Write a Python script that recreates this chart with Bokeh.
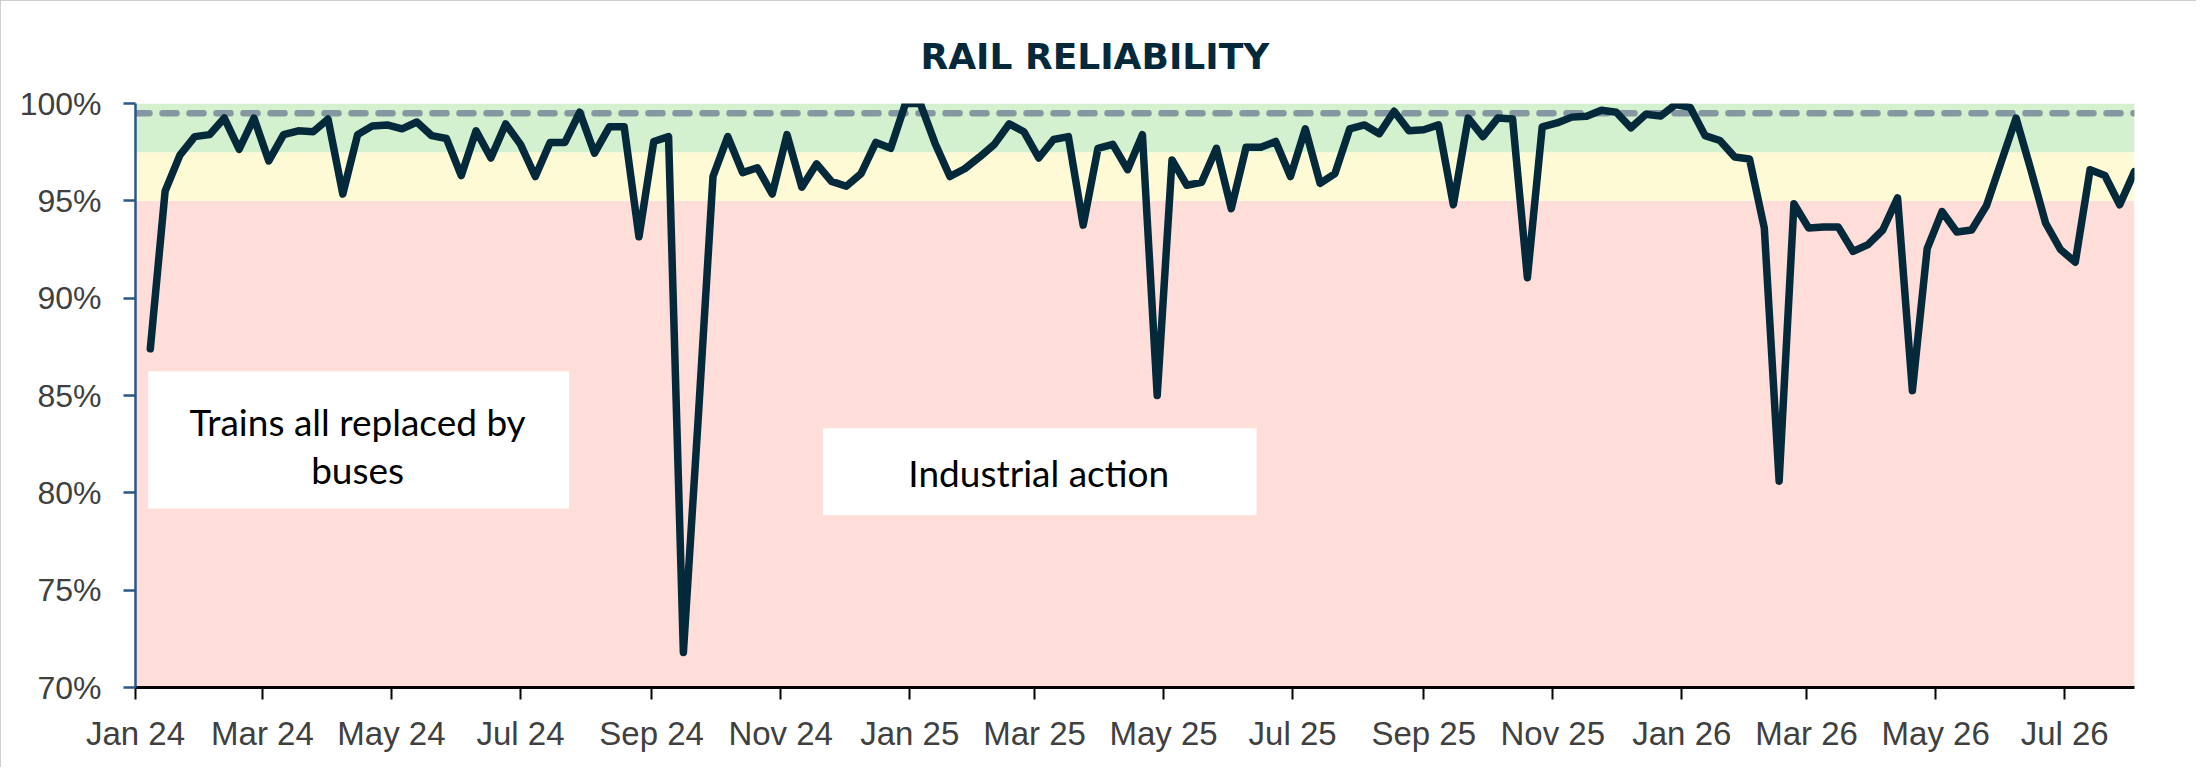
import pandas as pd
from bokeh.plotting import figure
from bokeh.models import (Range1d, BoxAnnotation, Span, Label, DatetimeTickFormatter,
                          MonthsTicker, PrintfTickFormatter, FixedTicker)
from bokeh.embed import file_html
from bokeh.resources import INLINE

# ---------------- data ----------------
first_week = "2024-01-08"
axis_start = "2024-01-01"
reliability = [
    87.4, 95.5, 97.35, 98.3, 98.4, 99.25, 97.65, 99.25, 97.05, 98.4,
    98.6, 98.55, 99.2, 95.35, 98.4, 98.85, 98.9, 98.7, 99.05, 98.35,
    98.2, 96.3, 98.6, 97.2, 98.95, 97.9, 96.25, 98.0, 98.0, 99.55,
    97.45, 98.8, 98.8, 93.15, 98.05, 98.3, 71.8, 83.8, 96.25, 98.3,
    96.45, 96.7, 95.35, 98.4, 95.7, 96.9, 96.0, 95.75, 96.4, 98.0,
    97.7, 100.0, 100.0, 97.95, 96.25, 96.65, 97.25, 97.9, 98.95, 98.55,
    97.2, 98.15, 98.3, 93.75, 97.7, 97.9, 96.6, 98.4, 85.0, 97.1,
    95.8, 95.95, 97.7, 94.6, 97.75, 97.75, 98.05, 96.25, 98.7, 95.9,
    96.4, 98.7, 98.9, 98.45, 99.6, 98.6, 98.65, 98.9, 94.8, 99.25,
    98.3, 99.25, 99.2, 91.05, 98.8, 99.0, 99.3, 99.35, 99.65, 99.55,
    98.75, 99.45, 99.35, 99.95, 99.8, 98.35, 98.1, 97.25, 97.15, 93.6,
    80.6, 94.85, 93.6, 93.65, 93.65, 92.4, 92.75, 93.5, 95.15, 85.25,
    92.55, 94.45, 93.4, 93.5, 94.75, 97.0, 99.25, 96.6, 93.85, 92.5,
    91.85, 96.6, 96.3, 94.8, 96.5,
]
y_ticks = [70, 75, 80, 85, 90, 95, 100]
tick_months = [0, 2, 4, 6, 8, 10]
band_edges = [70, 95, 97.5, 100]
band_colors = ["#FFDDD9", "#FFFAD6", "#D3F0CF"]
target = 99.5
title_text = "RAIL RELIABILITY"
note1_lines = ["Trains all replaced by", "buses"]
note2_lines = ["Industrial action"]

# annotation placement (data coords)
note1_box = ("2024-01-07", "2024-07-24", 79.2, 86.25)
note1_text_x = "2024-04-15"
note1_text_y = [83.68, 81.2]
note2_box = ("2024-11-21", "2025-06-14", 78.85, 83.32)
note2_text_x = "2025-03-03"
note2_text_y = [81.06]

dates = pd.date_range(first_week, periods=len(reliability), freq="7D")


def ms(d):
    return pd.Timestamp(d).value / 1e6


p = figure(width=2196, height=767, x_axis_type="datetime",
           output_backend="svg", toolbar_location=None,
           x_range=Range1d(ms(axis_start), ms(dates[-1])),
           y_range=Range1d(band_edges[0], band_edges[-1]),
           min_border_left=135, min_border_right=62,
           min_border_top=103, min_border_bottom=80,
           background_fill_color="white", border_fill_color="white")
p.outline_line_color = None
p.xgrid.visible = False
p.ygrid.visible = False
p.styles = {"outline": "3px solid #BFBFBF", "outline-offset": "-3px"}

# title
p.title.text = title_text
p.title.align = "left"
p.title.offset = 785
p.title.text_font = "DejaVu Sans"
p.title.text_font_size = "36px"
p.title.text_font_style = "bold"
p.title.text_color = "#04293A"
p.title.standoff = 54

# bands
for lo, hi, c in zip(band_edges[:-1], band_edges[1:], band_colors):
    p.add_layout(BoxAnnotation(bottom=lo, top=hi, fill_color=c, fill_alpha=1.0,
                               line_color=None, level="underlay"))

p.add_layout(Span(location=target, dimension="width", line_color="#8597A1",
                  line_width=6.5, line_dash="14 13", line_cap="round", level="underlay"))

# line
p.line(dates, reliability, line_width=7.5, line_color="#03293A",
       line_join="round", line_cap="round")

# notes
for box, tx, tys, lines in [(note1_box, note1_text_x, note1_text_y, note1_lines),
                            (note2_box, note2_text_x, note2_text_y, note2_lines)]:
    p.add_layout(BoxAnnotation(left=ms(box[0]), right=ms(box[1]), bottom=box[2], top=box[3],
                               fill_color="white", fill_alpha=1.0, line_color=None))
    for ty, t in zip(tys, lines):
        p.add_layout(Label(x=ms(tx), y=ty, text=t, text_align="center",
                           text_baseline="middle", text_font="Lato",
                           text_font_size="37px", text_color="#000000"))

# x axis
xa = p.xaxis[0]
xa.ticker = MonthsTicker(months=tick_months)
xa.formatter = DatetimeTickFormatter(days="%b %y", months="%b %y", years="%b %y")
xa.axis_line_color = "#000000"
xa.axis_line_width = 3
xa.major_tick_line_color = "#000000"
xa.major_tick_line_width = 2
xa.major_tick_in = 0
xa.major_tick_out = 12
xa.minor_tick_line_color = None
xa.major_label_text_font = "Liberation Sans"
xa.major_label_text_font_size = "33px"
xa.major_label_text_color = "#404040"
xa.major_label_standoff = 15

# y axis
ya = p.yaxis[0]
ya.ticker = FixedTicker(ticks=y_ticks)
ya.formatter = PrintfTickFormatter(format="%d%%")
ya.axis_line_color = "#2B5687"
ya.axis_line_width = 2.5
ya.major_tick_line_color = "#2B5687"
ya.major_tick_line_width = 2.5
ya.major_tick_in = 0
ya.major_tick_out = 12
ya.minor_tick_line_color = None
ya.major_label_text_font = "Liberation Sans"
ya.major_label_text_font_size = "32px"
ya.major_label_text_color = "#404040"
ya.major_label_standoff = 22

open("out.html", "w").write(file_html(p, INLINE))
